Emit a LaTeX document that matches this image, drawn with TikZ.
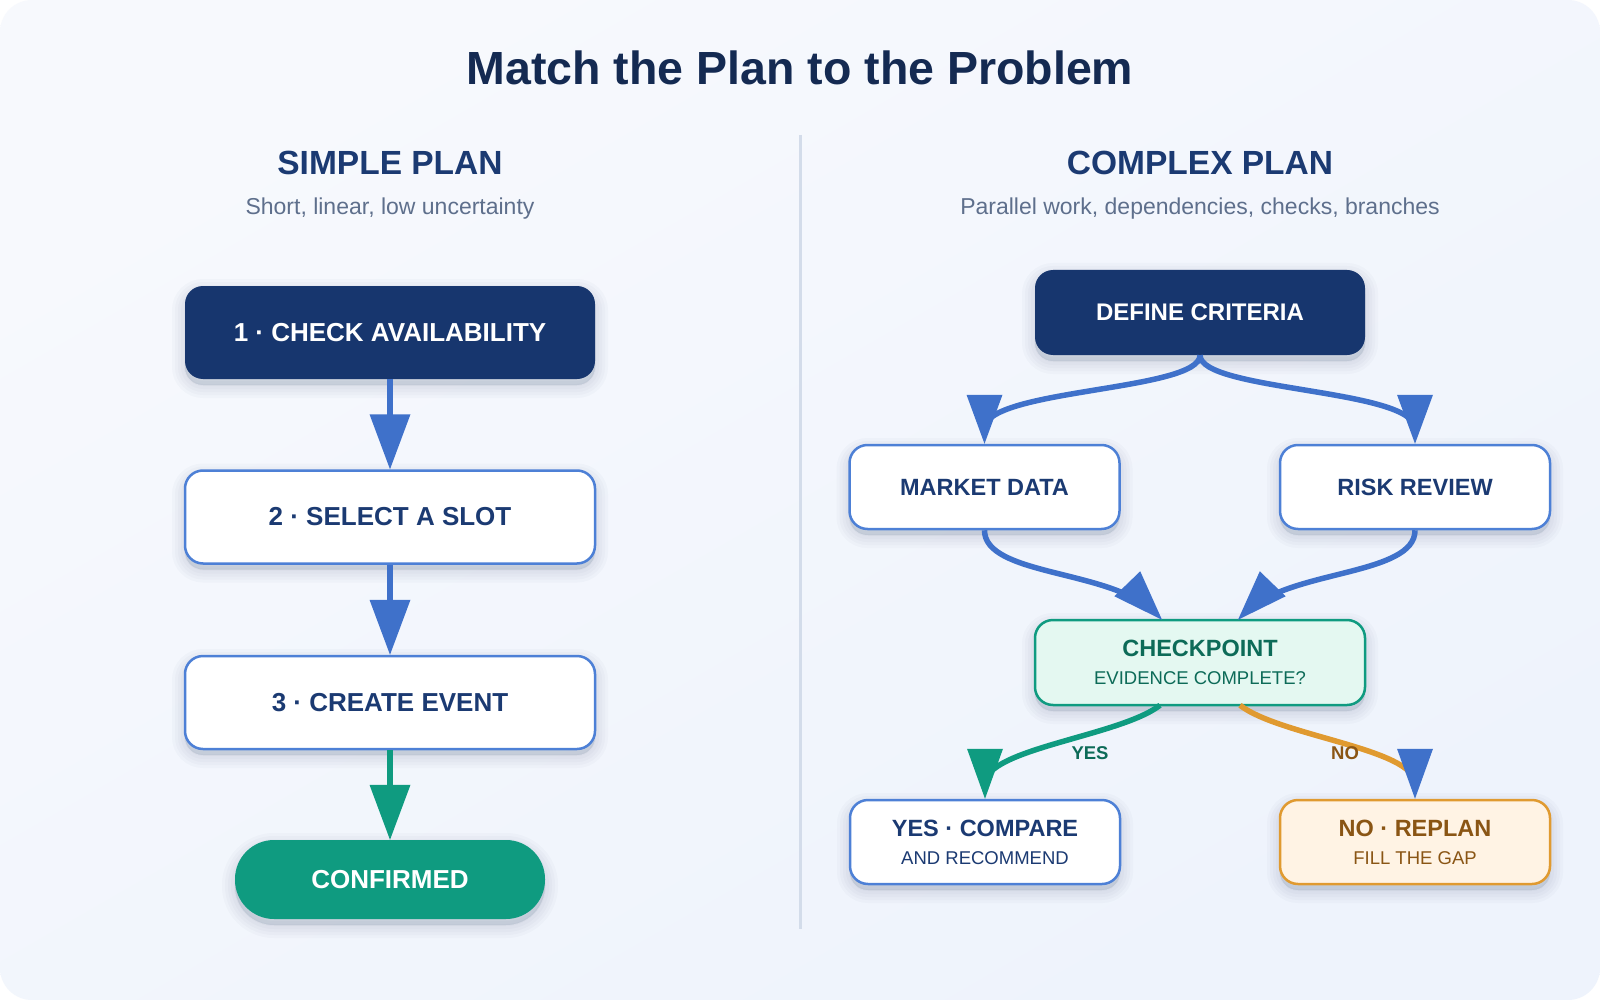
\documentclass[tikz,border=0pt]{standalone}
\usepackage{fontspec}
\setmainfont{Liberation Sans}
\usetikzlibrary{calc}

\definecolor{navy}{HTML}{17366E}
\definecolor{navytext}{HTML}{1B3A72}
\definecolor{titlec}{HTML}{142A52}
\definecolor{slate}{HTML}{5E6F8C}
\definecolor{flowblue}{HTML}{3F71CA}
\definecolor{edgeblue}{HTML}{4D80D6}
\definecolor{tealc}{HTML}{0F9B80}
\definecolor{tealdark}{HTML}{0D6B58}
\definecolor{mint}{HTML}{E4F8F1}
\definecolor{amber}{HTML}{E09A30}
\definecolor{cream}{HTML}{FFF3E4}
\definecolor{brownc}{HTML}{8A5514}
\definecolor{bgA}{HTML}{F7F9FD}
\definecolor{bgB}{HTML}{EEF3FC}
\definecolor{rulec}{HTML}{D3DCEA}
\definecolor{shadowc}{HTML}{1E3560}

% filled triangular arrowhead: colour, tip point, direction (deg), length, half width
\newcommand{\arrowhd}[5]{%
  \fill[#1, shift={(#2)}, rotate=#3] (0,0) -- (-#4,#5) -- (-#4,-#5) -- cycle;}

\begin{document}
\begin{tikzpicture}[x=1pt, y=-1pt,
  ttl/.style={font=\fontsize{46.5}{55}\selectfont\bfseries, text=titlec},
  colhead/.style={font=\fontsize{33.5}{40}\selectfont\bfseries, text=navytext},
  colsub/.style={font=\fontsize{23}{28}\selectfont, text=slate},
  softlayer/.style={preaction={draw=shadowc, fill=shadowc, line width=#1,
    draw opacity=0.022, fill opacity=0.022, transform canvas={yshift=-6pt}}},
  card/.style={rounded corners=18pt, inner sep=0pt, align=center,
    softlayer=2pt, softlayer=8pt, softlayer=14pt, softlayer=20pt, softlayer=26pt},
  lbox/.style={card, minimum width=410pt, minimum height=93pt,
    font=\fontsize{26}{31}\selectfont\bfseries},
  rbox/.style={card, minimum width=270pt, minimum height=84pt,
    font=\fontsize{23.5}{28}\selectfont\bfseries},
  darkfill/.style={fill=navy, text=white},
  plainfill/.style={fill=white, draw=edgeblue, line width=2.5pt, text=navytext},
  flowL/.style={line width=6.5pt, shorten >=20pt},
  flowR/.style={line width=5.5pt, shorten >=15pt},
  lbl/.style={font=\fontsize{18.5}{22}\selectfont\bfseries, inner sep=0pt}
]
\useasboundingbox (0,0) rectangle (1600,1000);
\fill[white] (0,0) rectangle (1600,1000);
\shade[rounded corners=32pt, top color=bgA, bottom color=bgB, shading angle=30]
  (0,0) rectangle (1600,1000);

% headings
\node[ttl, anchor=base] (title) at (800,85) {Match the Plan to the Problem};
\node[colhead, anchor=base] (lhead) at (390,175) {SIMPLE PLAN};
\node[colsub, anchor=base] (lsub) at (390,215) {Short, linear, low uncertainty};
\node[colhead, anchor=base] (rhead) at (1200,175) {COMPLEX PLAN};
\node[colsub, anchor=base] (rsub) at (1200,215) {Parallel work, dependencies, checks, branches};

% column divider
\draw[rulec, line width=3pt] (800,135) -- (800,929);

% simple plan steps
\node[lbox, darkfill] (s1) at (390,332.5) {1 · CHECK AVAILABILITY};
\node[lbox, plainfill] (s2) at (390,517) {2 · SELECT A SLOT};
\node[lbox, plainfill] (s3) at (390,702.5) {3 · CREATE EVENT};
\node[card, fill=tealc, text=white, minimum width=310pt, minimum height=79pt,
  rounded corners=39pt, font=\fontsize{26}{31}\selectfont\bfseries] (cf) at (390,879.5) {CONFIRMED};

% complex plan steps
\node[rbox, darkfill, minimum width=330pt, minimum height=85pt,
  font=\fontsize{24}{28}\selectfont\bfseries] (dc) at (1200,312.5) {DEFINE CRITERIA};
\node[rbox, plainfill] (md) at (984.5,487) {MARKET DATA};
\node[rbox, plainfill] (rr) at (1415,487) {RISK REVIEW};
\node[rbox, fill=mint, draw=tealc, line width=2.5pt, text=tealdark,
  minimum width=330pt, minimum height=85pt] (cp) at (1200,662.5)
  {CHECKPOINT\\{\fontsize{18.5}{28}\selectfont\mdseries EVIDENCE COMPLETE?}};
\node[rbox, plainfill] (yc) at (985,842)
  {YES · COMPARE\\{\fontsize{18.5}{28}\selectfont\mdseries AND RECOMMEND}};
\node[rbox, fill=cream, draw=amber, line width=2.5pt, text=brownc] (nr) at (1415,842)
  {NO · REPLAN\\{\fontsize{18.5}{28}\selectfont\mdseries FILL THE GAP}};

% simple plan connectors
\draw[flowL, flowblue] (s1.south) -- (s2.north);
\arrowhd{flowblue}{s2.north}{-90}{55}{20.5}
\draw[flowL, flowblue] (s2.south) -- (s3.north);
\arrowhd{flowblue}{s3.north}{-90}{55}{20.5}
\draw[flowL, tealc] (s3.south) -- (cf.north);
\arrowhd{tealc}{cf.north}{-90}{55}{20.5}

% complex plan connectors
\coordinate (cpinL) at ($(cp.north)+(-38,1)$);
\coordinate (cpinR) at ($(cp.north)+(38,1)$);
\coordinate (cpoutL) at ($(cp.south)+(-40,-1)$);
\coordinate (cpoutR) at ($(cp.south)+(40,-1)$);

\draw[flowR, flowblue] (dc.south) .. controls +(0,36) and +(0,-55) .. (md.north);
\arrowhd{flowblue}{md.north}{-90}{49}{18}
\draw[flowR, flowblue] (dc.south) .. controls +(0,36) and +(0,-55) .. (rr.north);
\arrowhd{flowblue}{rr.north}{-90}{49}{18}

\draw[flowR, flowblue] (md.south) .. controls +(0,45) and +(-55,-50) .. (cpinL);
\arrowhd{flowblue}{cpinL}{-46}{50}{18}
\draw[flowR, flowblue] (rr.south) .. controls +(0,45) and +(55,-50) .. (cpinR);
\arrowhd{flowblue}{cpinR}{-134}{50}{18}

\draw[flowR, tealc] (cpoutL) .. controls +(-40,31) and +(0,-50) .. (yc.north);
\arrowhd{tealc}{yc.north}{-90}{50}{18}
\draw[flowR, amber] (cpoutR) .. controls +(40,31) and +(0,-50) .. (nr.north);
\arrowhd{flowblue}{nr.north}{-90}{50}{18}

% branch labels
\node[lbl, text=tealdark] (yes) at (1090,753) {YES};
\node[lbl, text=brownc] (no) at (1345,753) {NO};
\end{tikzpicture}
\end{document}
